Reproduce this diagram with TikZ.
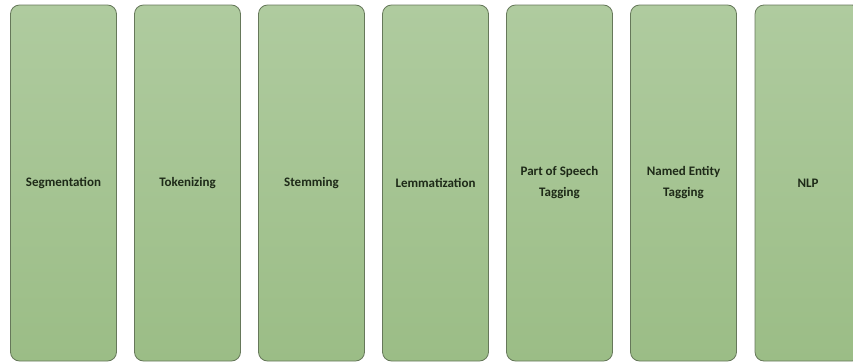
\documentclass[tikz,border=0pt]{standalone}
\usepackage{fontspec}
\setmainfont{Carlito}
\definecolor{boxtop}{HTML}{AFCB9F}
\definecolor{boxbot}{HTML}{9BBD86}
\definecolor{boxline}{HTML}{66785A}
\definecolor{txt}{HTML}{1E2A18}
\begin{document}
\begin{tikzpicture}[x=1pt,y=-1pt,
  stage/.style={draw=boxline, line width=0.8pt, rounded corners=9pt,
    top color=boxtop, bottom color=boxbot, minimum width=106pt, minimum height=356pt,
    inner sep=0pt, align=center, font=\bfseries\fontsize{13}{21}\selectfont, text=txt}]
\useasboundingbox (0,0) rectangle (853,362);
\node[stage] (s1) at (63.5,183) {Segmentation};
\node[stage] (s2) at (187.5,183) {Tokenizing};
\node[stage] (s3) at (311.5,183) {Stemming};
\node[stage] (s4) at (435.5,183) {Lemmatization};
\node[stage] (s5) at (559.5,183) {Part of Speech\\Tagging};
\node[stage] (s6) at (683.5,183) {Named Entity\\Tagging};
\node[stage] (s7) at (808,183) {NLP};
\end{tikzpicture}
\end{document}
